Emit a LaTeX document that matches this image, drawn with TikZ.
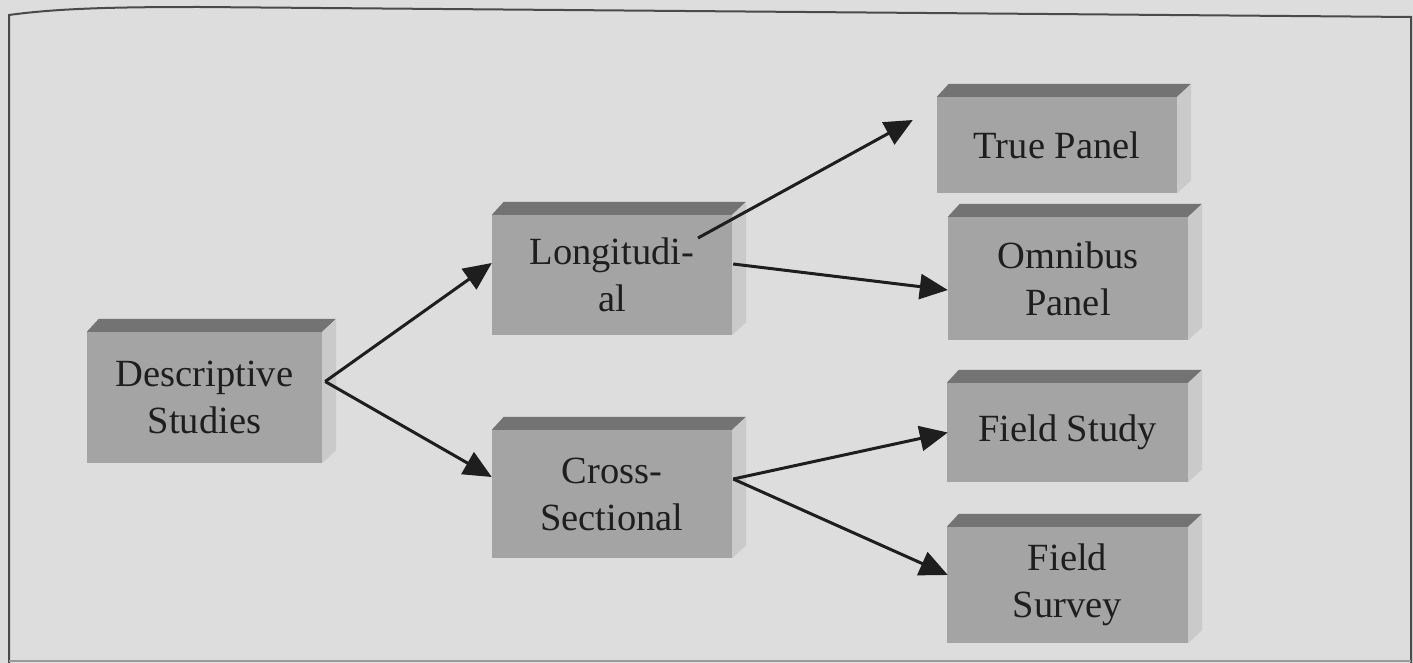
\documentclass[tikz,border=0pt]{standalone}
\usepackage{fontspec}
\setmainfont{Liberation Serif}
\usetikzlibrary{arrows.meta,calc}

\definecolor{paper}{HTML}{DDDDDD}
\definecolor{facefront}{HTML}{A4A4A4}
\definecolor{facetop}{HTML}{737373}
\definecolor{faceside}{HTML}{CACACA}
\definecolor{inkc}{HTML}{1E1E1E}
\definecolor{framec}{HTML}{4A4A4A}
\definecolor{framelow}{HTML}{9A9A9A}

\newcommand{\boxfont}{\fontsize{38.5}{47}\selectfont}

\tikzset{
  slab/.style={fill=facefront, text=inkc, font=\boxfont, align=center,
    inner sep=0pt, anchor=center},
  flow/.style={draw=inkc, line width=3pt, -{Triangle[length=28pt,width=25pt]}},
}

\begin{document}
\begin{tikzpicture}[x=1pt,y=-1pt]
  \useasboundingbox (0,0) rectangle (1413,663);
  \fill[paper] (0,0) rectangle (1413,663);

  % frame
  \draw[framec, line width=2pt] (9,663) -- (9,15) .. controls (60,8) and (120,7) .. (200,7) -- (1411,17) -- (1411,663);
  \draw[framelow, line width=1.5pt] (9,661) -- (1411,661);

  % front faces of the blocks
  \node[slab, minimum width=235pt, minimum height=131pt] (desc)    at (204.5,397.5) {Descriptive\\Studies};
  \node[slab, minimum width=240pt, minimum height=120pt] (longi)   at (612,275)     {Longitudi-\\al};
  \node[slab, minimum width=240pt, minimum height=128pt] (cross)   at (612,494)     {Cross-\\Sectional};
  \node[slab, minimum width=240pt, minimum height=96pt]  (truep)   at (1057,145)    {True Panel};
  \node[slab, minimum width=240pt, minimum height=123pt] (omnip)   at (1068,278.5)  {Omnibus\\Panel};
  \node[slab, minimum width=241pt, minimum height=99pt]  (fstudy)  at (1067.5,432.5){Field Study};
  \node[slab, minimum width=241pt, minimum height=116pt] (fsurvey) at (1067.5,585)  {Field\\Survey};

  % top and side faces give each block its depth
  \foreach \n in {desc,longi,cross,truep,omnip,fstudy,fsurvey}{
    \fill[facetop] (\n.north west) -- ([shift={(12,-13)}]\n.north west)
      -- ([shift={(14,-13)}]\n.north east) -- (\n.north east) -- cycle;
    \fill[faceside] (\n.north east) -- ([shift={(14,-13)}]\n.north east)
      -- ([shift={(14,-13)}]\n.south east) -- (\n.south east) -- cycle;
  }

  % connectors
  \draw[flow] ([shift={(3,-16)}]desc.east) -- ([shift={(0,-12)}]longi.west);
  \draw[flow] ([shift={(3,-16)}]desc.east) -- ([shift={(0,-17)}]cross.west);
  \draw[flow] ([shift={(86,-37)}]longi.center) -- ([shift={(-24,-25)}]truep.west);
  \draw[flow] ([shift={(1,-11)}]longi.east) -- ([shift={(0,11.5)}]omnip.west);
  \draw[flow] ([shift={(1,-15)}]cross.east) -- ([shift={(1,0)}]fstudy.west);
  \draw[flow] ([shift={(1,-15)}]cross.east) -- ([shift={(1,-10)}]fsurvey.west);
\end{tikzpicture}
\end{document}
